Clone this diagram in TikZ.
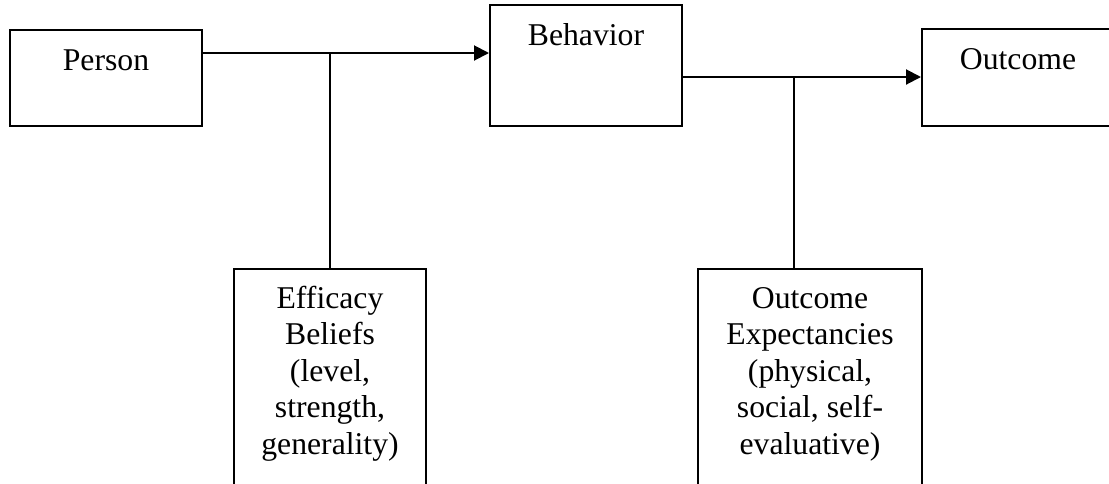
\documentclass[tikz,border=0pt]{standalone}
\usepackage{fontspec}
\setmainfont{Liberation Serif}
\usetikzlibrary{arrows.meta}
\tikzset{
  box/.style={draw=black, line width=2pt, fill=none, inner sep=0pt, minimum width=192pt},
  lbl/.style={anchor=base, inner sep=0pt, font=\fontsize{31.7}{36.5}\selectfont},
  conn/.style={draw=black, line width=2pt},
  arr/.style={conn, -{Triangle[length=15pt,width=15pt]}}
}
\begin{document}
\begin{tikzpicture}[x=1pt,y=-1pt]
\useasboundingbox (0,0) rectangle (1109,483);
\clip (0,0) rectangle (1109,483);
% boxes
\node[box, minimum height=96pt] (person) at (106,78) {};
\node[box, minimum height=121pt] (behavior) at (586,65.5) {};
\node[box, minimum height=97pt] (outcome) at (1018,77.5) {};
\node[box, minimum height=240pt] (efficacy) at (330,389) {};
\node[box, minimum width=224pt, minimum height=240pt] (oe) at (810,389) {};
% labels
\node[lbl] (tperson) at ([yshift=-41pt]person.north) {Person};
\node[lbl] (tbehavior) at ([yshift=-41pt]behavior.north) {Behavior};
\node[lbl] (toutcome) at ([yshift=-41pt]outcome.north) {Outcome};
\node[lbl] (tefficacy) at ([yshift=-40pt]efficacy.north) {\begin{tabular}[t]{@{}c@{}}Efficacy\\Beliefs\\(level,\\strength,\\generality)\end{tabular}};
\node[lbl] (toe) at ([yshift=-40pt]oe.north) {\begin{tabular}[t]{@{}c@{}}Outcome\\Expectancies\\(physical,\\social, self-\\evaluative)\end{tabular}};
% junctions
\coordinate (j1) at (330,53);
\coordinate (j2) at (794,77);
% connectors
\draw[arr] (person.east |- j1) -- (behavior.west |- j1);
\draw[conn] (j1) -- (efficacy.north);
\draw[arr] (behavior.east |- j2) -- (outcome.west |- j2);
\draw[conn] (j2) -- (j2 |- oe.north);
\end{tikzpicture}
\end{document}
